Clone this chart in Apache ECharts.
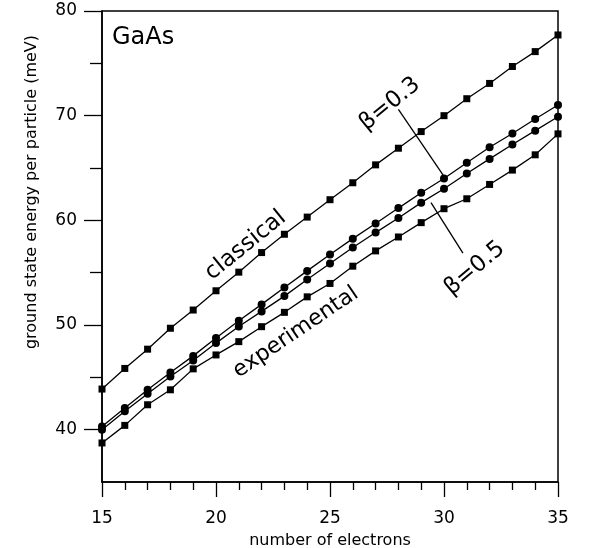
<!DOCTYPE html>
<html><head><meta charset="utf-8">
<script src="https://cdn.jsdelivr.net/npm/echarts@6/dist/echarts.min.js"></script>
<style>html,body{margin:0;padding:0;background:#fff}#c{width:597px;height:548px}</style>
</head><body><div id="c"></div>
<script>
const electrons = [15,16,17,18,19,20,21,22,23,24,25,26,27,28,29,30,31,32,33,34,35];
const classical = [43.88,45.85,47.69,49.69,51.43,53.27,55.05,56.92,58.67,60.31,61.97,63.59,65.3,66.89,68.48,70.0,71.62,73.08,74.70,76.12,77.71];
const beta03 = [40.31,42.07,43.81,45.46,47.05,48.75,50.41,51.97,53.59,55.17,56.73,58.25,59.69,61.17,62.64,64.0,65.5,66.98,68.3,69.68,71.02];
const beta05 = [40.0,41.75,43.43,45.08,46.6,48.27,49.85,51.3,52.76,54.35,55.88,57.4,58.83,60.22,61.69,63.02,64.47,65.87,67.24,68.57,69.9];
const experimental = [38.73,40.41,42.38,43.81,45.81,47.14,48.41,49.84,51.21,52.69,53.97,55.62,57.08,58.41,59.78,61.11,62.06,63.43,64.8,66.26,68.26];
const yMajorTicks = [40,50,60,70,80];
const yMinorTicks = [45,55,65,75];
// annotation anchors in data coordinates
const leader03 = [[28.0,70.6],[30.0,64.2]];
const leader05 = [[29.43,61.7],[30.83,56.86]];
const labels = [
  {text:'classical', at:[21.3,57.6], angle:39, size:23},
  {text:'experimental', at:[23.5,49.3], angle:34, size:22},
  {text:'β=0.3', at:[27.63,71.1], angle:39, size:23},
  {text:'β=0.5', at:[31.35,55.4], angle:40, size:23}
];

const FONT = 'DejaVu Sans';
const chart = echarts.init(document.getElementById('c'), null, {renderer:'canvas'});
const pair = arr => electrons.map((n,i)=>[n,arr[i]]);
function lineSeries(name, arr, symbol, size, extra){
  return Object.assign({
    name, type:'line', data:pair(arr), symbol, symbolSize:size,
    itemStyle:{color:'#000'}, lineStyle:{color:'#000', width:1.3},
    animation:false, silent:true, z:3
  }, extra||{});
}
function leader(coords){
  return {silent:true, symbol:['none','none'], animation:false,
    lineStyle:{color:'#000', width:1.3, type:'solid'}, label:{show:false},
    data:[[{coord:coords[0]},{coord:coords[1]}]]};
}
const option = {
  backgroundColor:'#fff',
  animation:false,
  grid:{left:102, top:11, width:456, height:471, outerBoundsMode:'none', containLabel:false,
    show:true, borderColor:'#000', borderWidth:1.5, backgroundColor:'transparent'},
  xAxis:{type:'value', min:15, max:35, interval:5,
    name:'number of electrons', nameLocation:'middle', nameGap:51,
    nameTextStyle:{fontFamily:FONT, fontSize:16, color:'#000'},
    axisLine:{lineStyle:{color:'#000', width:1.5}},
    axisTick:{length:15, lineStyle:{color:'#000', width:1.3}},
    minorTick:{show:true, splitNumber:5, length:8, lineStyle:{color:'#000', width:1.3}},
    axisLabel:{fontFamily:FONT, fontSize:17, color:'#000', margin:28},
    splitLine:{show:false}},
  yAxis:[{type:'value', min:35, max:80, interval:5,
    axisLine:{lineStyle:{color:'#000', width:1.5}},
    axisTick:{length:18, customValues:yMajorTicks, lineStyle:{color:'#000', width:1.3}},
    axisLabel:{fontFamily:FONT, fontSize:17, color:'#000', margin:25, customValues:yMajorTicks},
    splitLine:{show:false}},
   {type:'value', min:35, max:80, interval:5, position:'left',
    axisLine:{show:false},
    axisTick:{length:12, customValues:yMinorTicks, lineStyle:{color:'#000', width:1.3}},
    axisLabel:{show:false},
    splitLine:{show:false}}],
  series:[
    lineSeries('classical', classical, 'rect', 7),
    lineSeries('beta03', beta03, 'circle', 8, {markLine:leader(leader03)}),
    lineSeries('beta05', beta05, 'circle', 8, {markLine:leader(leader05)}),
    lineSeries('experimental', experimental, 'rect', 7)
  ]
};
chart.setOption(option);
const g = [{type:'text', x:112, y:38, style:{text:'GaAs', fontFamily:FONT, fontSize:24, fill:'#000', align:'left', verticalAlign:'middle'}},
  {type:'text', x:32, y:192, rotation:Math.PI/2,
   style:{text:'ground state energy per particle (meV)', fontFamily:FONT, fontSize:16, fill:'#000', align:'center', verticalAlign:'middle'}}];
labels.forEach(l=>{
  const p = chart.convertToPixel({gridIndex:0}, l.at);
  g.push({type:'text', x:p[0], y:p[1], rotation:l.angle*Math.PI/180,
    style:{text:l.text, fontFamily:FONT, fontSize:l.size, fill:'#000', align:'center', verticalAlign:'middle'}});
});
chart.setOption({graphic:g});
</script></body></html>
